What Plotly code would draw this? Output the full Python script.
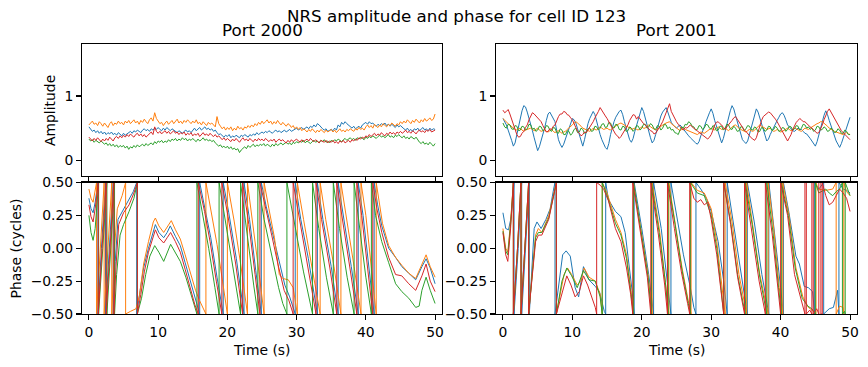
import numpy as np
import plotly.graph_objects as go

# ---------------- data ----------------
SERIES = ["blue", "orange", "green", "red"]
COLORS = {"blue": "#1f77b4", "orange": "#ff7f0e", "green": "#2ca02c", "red": "#d62728"}

# Amplitude, sampled every 0.25 s from 0 to 50 s (201 samples)
amp_2000_blue = [0.52, 0.48, 0.45, 0.47, 0.43, 0.46, 0.42, 0.45, 0.41, 0.44, 0.40, 0.43, 0.41, 0.44, 0.40, 0.42, 0.39, 0.43, 0.40, 0.38,
                 0.42, 0.39, 0.41, 0.43, 0.45, 0.42, 0.46, 0.44, 0.47, 0.45, 0.43, 0.47, 0.49, 0.46, 0.48, 0.45, 0.49, 0.47, 0.50, 0.48,
                 0.51, 0.48, 0.46, 0.50, 0.47, 0.51, 0.49, 0.46, 0.49, 0.47, 0.45, 0.43, 0.46, 0.44, 0.42, 0.45, 0.47, 0.44, 0.46, 0.43,
                 0.47, 0.50, 0.46, 0.48, 0.51, 0.47, 0.49, 0.52, 0.48, 0.50, 0.47, 0.49, 0.45, 0.47, 0.43, 0.40, 0.41, 0.38, 0.36, 0.39,
                 0.37, 0.40, 0.35, 0.38, 0.36, 0.39, 0.37, 0.35, 0.39, 0.37, 0.40, 0.38, 0.36, 0.40, 0.38, 0.41, 0.39, 0.43, 0.40, 0.42,
                 0.44, 0.42, 0.45, 0.43, 0.46, 0.44, 0.42, 0.45, 0.47, 0.44, 0.46, 0.43, 0.45, 0.47, 0.44, 0.46, 0.48, 0.45, 0.47, 0.49,
                 0.50, 0.47, 0.49, 0.51, 0.48, 0.50, 0.52, 0.49, 0.53, 0.51, 0.55, 0.52, 0.57, 0.55, 0.51, 0.49, 0.47, 0.49, 0.45, 0.47,
                 0.48, 0.46, 0.50, 0.47, 0.55, 0.52, 0.59, 0.56, 0.60, 0.57, 0.55, 0.52, 0.50, 0.53, 0.49, 0.51, 0.53, 0.50, 0.55, 0.57,
                 0.59, 0.56, 0.60, 0.57, 0.58, 0.55, 0.53, 0.56, 0.54, 0.57, 0.55, 0.58, 0.54, 0.56, 0.53, 0.56, 0.54, 0.51, 0.55, 0.52,
                 0.54, 0.51, 0.49, 0.47, 0.50, 0.46, 0.48, 0.45, 0.49, 0.47, 0.50, 0.46, 0.48, 0.51, 0.47, 0.49, 0.46, 0.50, 0.47, 0.49,
                 0.48]
amp_2000_orange = [0.55, 0.59, 0.61, 0.56, 0.58, 0.54, 0.60, 0.57, 0.53, 0.58, 0.55, 0.51, 0.57, 0.60, 0.54, 0.58, 0.56, 0.61, 0.57, 0.59,
                   0.55, 0.61, 0.58, 0.62, 0.57, 0.60, 0.63, 0.58, 0.61, 0.56, 0.62, 0.59, 0.64, 0.60, 0.57, 0.63, 0.66, 0.61, 0.74, 0.65,
                   0.60, 0.57, 0.59, 0.54, 0.58, 0.61, 0.56, 0.59, 0.62, 0.57, 0.60, 0.64, 0.58, 0.61, 0.57, 0.62, 0.59, 0.63, 0.60, 0.57,
                   0.61, 0.58, 0.63, 0.57, 0.59, 0.55, 0.60, 0.57, 0.54, 0.59, 0.56, 0.58, 0.55, 0.52, 0.68, 0.57, 0.53, 0.49, 0.52, 0.47,
                   0.51, 0.48, 0.52, 0.46, 0.50, 0.47, 0.53, 0.49, 0.51, 0.47, 0.52, 0.50, 0.54, 0.51, 0.55, 0.52, 0.57, 0.54, 0.59, 0.56,
                   0.61, 0.57, 0.60, 0.63, 0.58, 0.61, 0.56, 0.60, 0.57, 0.62, 0.58, 0.55, 0.59, 0.56, 0.53, 0.57, 0.55, 0.51, 0.54, 0.49,
                   0.52, 0.48, 0.51, 0.46, 0.49, 0.47, 0.44, 0.48, 0.45, 0.49, 0.46, 0.43, 0.47, 0.44, 0.48, 0.45, 0.43, 0.47, 0.44, 0.46,
                   0.48, 0.44, 0.47, 0.43, 0.46, 0.49, 0.45, 0.47, 0.44, 0.48, 0.46, 0.49, 0.47, 0.45, 0.49, 0.47, 0.51, 0.48, 0.50, 0.47,
                   0.52, 0.55, 0.51, 0.54, 0.50, 0.56, 0.53, 0.51, 0.55, 0.52, 0.57, 0.54, 0.52, 0.56, 0.54, 0.58, 0.55, 0.53, 0.57, 0.55,
                   0.60, 0.57, 0.61, 0.58, 0.63, 0.60, 0.57, 0.62, 0.59, 0.64, 0.61, 0.58, 0.63, 0.60, 0.65, 0.61, 0.63, 0.66, 0.62, 0.64,
                   0.72]
amp_2000_green = [0.33, 0.30, 0.32, 0.28, 0.31, 0.29, 0.27, 0.30, 0.28, 0.25, 0.27, 0.23, 0.26, 0.22, 0.25, 0.21, 0.24, 0.20, 0.23, 0.21,
                  0.23, 0.19, 0.22, 0.17, 0.21, 0.19, 0.23, 0.20, 0.24, 0.21, 0.23, 0.25, 0.22, 0.26, 0.23, 0.25, 0.27, 0.24, 0.29, 0.26,
                  0.30, 0.28, 0.31, 0.27, 0.30, 0.28, 0.32, 0.29, 0.33, 0.31, 0.34, 0.30, 0.33, 0.31, 0.35, 0.32, 0.34, 0.30, 0.33, 0.31,
                  0.34, 0.31, 0.29, 0.33, 0.30, 0.32, 0.35, 0.31, 0.33, 0.30, 0.32, 0.29, 0.31, 0.27, 0.25, 0.22, 0.24, 0.20, 0.22, 0.19,
                  0.22, 0.18, 0.21, 0.17, 0.19, 0.16, 0.18, 0.12, 0.16, 0.19, 0.21, 0.18, 0.23, 0.20, 0.22, 0.25, 0.21, 0.24, 0.22, 0.25,
                  0.23, 0.26, 0.22, 0.25, 0.23, 0.21, 0.25, 0.22, 0.26, 0.23, 0.25, 0.27, 0.24, 0.26, 0.28, 0.25, 0.27, 0.24, 0.28, 0.26,
                  0.29, 0.27, 0.30, 0.28, 0.31, 0.27, 0.30, 0.28, 0.26, 0.29, 0.31, 0.28, 0.30, 0.27, 0.31, 0.29, 0.32, 0.28, 0.30, 0.27,
                  0.31, 0.29, 0.32, 0.30, 0.33, 0.31, 0.29, 0.32, 0.34, 0.31, 0.33, 0.35, 0.32, 0.34, 0.31, 0.35, 0.33, 0.36, 0.34, 0.32,
                  0.36, 0.34, 0.37, 0.35, 0.38, 0.36, 0.34, 0.37, 0.39, 0.36, 0.38, 0.35, 0.37, 0.40, 0.36, 0.38, 0.35, 0.39, 0.37, 0.40,
                  0.37, 0.35, 0.38, 0.34, 0.36, 0.33, 0.37, 0.35, 0.33, 0.36, 0.31, 0.28, 0.26, 0.29, 0.25, 0.27, 0.24, 0.28, 0.25, 0.22,
                  0.26]
amp_2000_red = [0.36, 0.33, 0.30, 0.34, 0.31, 0.35, 0.32, 0.29, 0.33, 0.30, 0.34, 0.31, 0.36, 0.33, 0.30, 0.35, 0.37, 0.34, 0.38, 0.35,
                0.39, 0.36, 0.40, 0.37, 0.41, 0.38, 0.36, 0.40, 0.42, 0.38, 0.41, 0.37, 0.40, 0.36, 0.39, 0.42, 0.44, 0.40, 0.52, 0.45,
                0.42, 0.45, 0.41, 0.44, 0.46, 0.42, 0.45, 0.41, 0.43, 0.46, 0.42, 0.44, 0.40, 0.43, 0.41, 0.44, 0.39, 0.42, 0.40, 0.43,
                0.38, 0.41, 0.39, 0.42, 0.37, 0.40, 0.43, 0.39, 0.41, 0.38, 0.42, 0.39, 0.37, 0.40, 0.36, 0.38, 0.34, 0.32, 0.35, 0.31,
                0.34, 0.31, 0.29, 0.33, 0.30, 0.34, 0.31, 0.28, 0.32, 0.35, 0.31, 0.33, 0.30, 0.34, 0.31, 0.29, 0.33, 0.30, 0.34, 0.31,
                0.33, 0.30, 0.34, 0.31, 0.29, 0.32, 0.30, 0.33, 0.28, 0.31, 0.33, 0.30, 0.32, 0.29, 0.27, 0.31, 0.28, 0.32, 0.29, 0.31,
                0.33, 0.30, 0.28, 0.32, 0.29, 0.31, 0.33, 0.30, 0.34, 0.31, 0.29, 0.32, 0.30, 0.27, 0.31, 0.29, 0.28, 0.31, 0.27, 0.30,
                0.28, 0.31, 0.27, 0.29, 0.26, 0.30, 0.28, 0.31, 0.27, 0.29, 0.31, 0.28, 0.32, 0.30, 0.33, 0.31, 0.35, 0.33, 0.36, 0.34,
                0.38, 0.36, 0.40, 0.37, 0.39, 0.42, 0.38, 0.41, 0.39, 0.43, 0.40, 0.38, 0.42, 0.40, 0.44, 0.41, 0.43, 0.40, 0.44, 0.42,
                0.45, 0.42, 0.44, 0.47, 0.43, 0.45, 0.42, 0.46, 0.44, 0.41, 0.45, 0.47, 0.44, 0.46, 0.43, 0.47, 0.45, 0.48, 0.44, 0.46,
                0.47]

amp_2001_blue = [0.65, 0.61, 0.55, 0.47, 0.40, 0.31, 0.22, 0.27, 0.40, 0.53, 0.65, 0.77, 0.85, 0.83, 0.75, 0.66, 0.55, 0.46, 0.35, 0.24,
                 0.15, 0.21, 0.30, 0.41, 0.50, 0.62, 0.72, 0.75, 0.70, 0.66, 0.60, 0.46, 0.32, 0.25, 0.20, 0.25, 0.33, 0.43, 0.50, 0.59,
                 0.65, 0.63, 0.58, 0.49, 0.40, 0.29, 0.22, 0.32, 0.45, 0.57, 0.65, 0.71, 0.76, 0.71, 0.60, 0.51, 0.40, 0.32, 0.25, 0.20,
                 0.17, 0.26, 0.40, 0.51, 0.60, 0.67, 0.72, 0.76, 0.78, 0.71, 0.60, 0.50, 0.40, 0.32, 0.28, 0.34, 0.45, 0.55, 0.65, 0.74,
                 0.82, 0.76, 0.65, 0.56, 0.45, 0.35, 0.27, 0.31, 0.40, 0.50, 0.60, 0.69, 0.75, 0.79, 0.82, 0.75, 0.65, 0.59, 0.55, 0.52,
                 0.50, 0.53, 0.55, 0.52, 0.48, 0.44, 0.40, 0.38, 0.35, 0.32, 0.30, 0.27, 0.25, 0.29, 0.38, 0.44, 0.52, 0.60, 0.68, 0.74,
                 0.80, 0.73, 0.62, 0.54, 0.45, 0.35, 0.27, 0.34, 0.45, 0.56, 0.68, 0.77, 0.85, 0.80, 0.70, 0.61, 0.50, 0.41, 0.32, 0.29,
                 0.26, 0.30, 0.40, 0.51, 0.62, 0.71, 0.80, 0.75, 0.65, 0.58, 0.48, 0.39, 0.30, 0.33, 0.40, 0.46, 0.52, 0.57, 0.62, 0.67,
                 0.72, 0.74, 0.70, 0.63, 0.55, 0.52, 0.48, 0.46, 0.45, 0.48, 0.50, 0.48, 0.48, 0.45, 0.42, 0.41, 0.38, 0.34, 0.30, 0.26,
                 0.22, 0.29, 0.40, 0.51, 0.62, 0.70, 0.77, 0.71, 0.62, 0.54, 0.45, 0.38, 0.30, 0.25, 0.20, 0.26, 0.35, 0.43, 0.52, 0.59,
                 0.67]
amp_2001_orange = [0.65, 0.62, 0.60, 0.57, 0.55, 0.52, 0.50, 0.48, 0.47, 0.49, 0.50, 0.47, 0.45, 0.47, 0.48, 0.50, 0.50, 0.48, 0.46, 0.48,
                   0.50, 0.47, 0.45, 0.46, 0.47, 0.45, 0.44, 0.46, 0.48, 0.45, 0.43, 0.45, 0.46, 0.44, 0.42, 0.44, 0.45, 0.48, 0.50, 0.53,
                   0.55, 0.58, 0.60, 0.58, 0.56, 0.53, 0.50, 0.49, 0.48, 0.46, 0.45, 0.47, 0.50, 0.48, 0.47, 0.50, 0.52, 0.50, 0.48, 0.49,
                   0.50, 0.48, 0.47, 0.50, 0.52, 0.54, 0.55, 0.57, 0.58, 0.56, 0.54, 0.53, 0.52, 0.50, 0.48, 0.49, 0.50, 0.48, 0.47, 0.50,
                   0.52, 0.50, 0.50, 0.53, 0.55, 0.52, 0.50, 0.48, 0.47, 0.49, 0.50, 0.53, 0.55, 0.57, 0.58, 0.59, 0.60, 0.57, 0.55, 0.52,
                   0.50, 0.48, 0.46, 0.48, 0.50, 0.48, 0.47, 0.46, 0.45, 0.43, 0.42, 0.41, 0.40, 0.42, 0.44, 0.43, 0.42, 0.44, 0.46, 0.48,
                   0.50, 0.48, 0.47, 0.50, 0.52, 0.50, 0.48, 0.49, 0.50, 0.48, 0.46, 0.49, 0.52, 0.54, 0.55, 0.52, 0.50, 0.48, 0.47, 0.45,
                   0.44, 0.46, 0.48, 0.46, 0.45, 0.47, 0.50, 0.53, 0.55, 0.53, 0.52, 0.50, 0.48, 0.49, 0.50, 0.47, 0.45, 0.46, 0.48, 0.46,
                   0.44, 0.45, 0.47, 0.49, 0.50, 0.48, 0.46, 0.48, 0.50, 0.49, 0.47, 0.46, 0.45, 0.48, 0.50, 0.49, 0.48, 0.50, 0.52, 0.54,
                   0.55, 0.57, 0.58, 0.60, 0.60, 0.58, 0.56, 0.53, 0.50, 0.48, 0.47, 0.45, 0.44, 0.43, 0.42, 0.41, 0.40, 0.42, 0.43, 0.41,
                   0.40]
amp_2001_green = [0.58, 0.52, 0.50, 0.56, 0.55, 0.49, 0.48, 0.54, 0.53, 0.46, 0.47, 0.53, 0.52, 0.47, 0.49, 0.56, 0.55, 0.48, 0.50, 0.45,
                  0.47, 0.53, 0.52, 0.46, 0.48, 0.54, 0.53, 0.47, 0.45, 0.51, 0.50, 0.43, 0.42, 0.49, 0.47, 0.40, 0.40, 0.46, 0.45, 0.39,
                  0.42, 0.48, 0.50, 0.43, 0.44, 0.50, 0.48, 0.42, 0.43, 0.49, 0.50, 0.45, 0.46, 0.53, 0.52, 0.47, 0.50, 0.56, 0.57, 0.51,
                  0.52, 0.59, 0.58, 0.51, 0.50, 0.56, 0.55, 0.48, 0.47, 0.53, 0.52, 0.45, 0.46, 0.52, 0.50, 0.45, 0.48, 0.54, 0.53, 0.47,
                  0.50, 0.56, 0.56, 0.50, 0.52, 0.57, 0.55, 0.49, 0.48, 0.54, 0.53, 0.47, 0.50, 0.56, 0.55, 0.49, 0.52, 0.47, 0.48, 0.43,
                  0.42, 0.40, 0.47, 0.52, 0.50, 0.56, 0.55, 0.60, 0.58, 0.53, 0.52, 0.47, 0.48, 0.54, 0.53, 0.48, 0.50, 0.56, 0.55, 0.50,
                  0.48, 0.54, 0.52, 0.46, 0.47, 0.53, 0.53, 0.47, 0.50, 0.56, 0.55, 0.49, 0.48, 0.53, 0.50, 0.45, 0.46, 0.52, 0.52, 0.46,
                  0.49, 0.54, 0.53, 0.48, 0.47, 0.52, 0.50, 0.44, 0.45, 0.51, 0.50, 0.45, 0.47, 0.53, 0.52, 0.46, 0.48, 0.53, 0.50, 0.45,
                  0.46, 0.51, 0.50, 0.45, 0.48, 0.53, 0.52, 0.47, 0.49, 0.54, 0.53, 0.47, 0.50, 0.56, 0.55, 0.50, 0.52, 0.48, 0.50, 0.45,
                  0.47, 0.53, 0.52, 0.47, 0.48, 0.52, 0.50, 0.45, 0.46, 0.50, 0.48, 0.43, 0.44, 0.49, 0.47, 0.42, 0.42, 0.47, 0.45, 0.40,
                  0.40]
amp_2001_red = [0.78, 0.74, 0.76, 0.79, 0.72, 0.64, 0.55, 0.47, 0.40, 0.36, 0.37, 0.42, 0.45, 0.51, 0.55, 0.63, 0.68, 0.74, 0.72, 0.69,
                0.66, 0.63, 0.60, 0.54, 0.50, 0.44, 0.45, 0.49, 0.48, 0.53, 0.55, 0.63, 0.68, 0.72, 0.72, 0.76, 0.75, 0.71, 0.70, 0.66,
                0.63, 0.57, 0.50, 0.45, 0.42, 0.38, 0.40, 0.44, 0.43, 0.47, 0.50, 0.56, 0.60, 0.66, 0.70, 0.76, 0.82, 0.77, 0.72, 0.69,
                0.65, 0.59, 0.55, 0.50, 0.45, 0.40, 0.38, 0.34, 0.37, 0.41, 0.45, 0.50, 0.55, 0.62, 0.66, 0.71, 0.70, 0.64, 0.68, 0.64,
                0.62, 0.57, 0.55, 0.52, 0.50, 0.46, 0.45, 0.41, 0.42, 0.46, 0.50, 0.55, 0.60, 0.67, 0.72, 0.78, 0.88, 0.76, 0.70, 0.65,
                0.60, 0.56, 0.52, 0.49, 0.47, 0.51, 0.50, 0.53, 0.55, 0.52, 0.50, 0.47, 0.45, 0.43, 0.42, 0.39, 0.38, 0.35, 0.33, 0.36,
                0.40, 0.47, 0.55, 0.59, 0.60, 0.57, 0.55, 0.51, 0.48, 0.52, 0.55, 0.59, 0.62, 0.66, 0.68, 0.64, 0.60, 0.55, 0.50, 0.47,
                0.45, 0.41, 0.38, 0.35, 0.33, 0.31, 0.35, 0.45, 0.55, 0.62, 0.68, 0.70, 0.72, 0.75, 0.74, 0.71, 0.68, 0.64, 0.60, 0.55,
                0.50, 0.45, 0.40, 0.34, 0.30, 0.35, 0.40, 0.48, 0.55, 0.59, 0.62, 0.65, 0.63, 0.60, 0.60, 0.57, 0.55, 0.52, 0.50, 0.47,
                0.45, 0.42, 0.43, 0.48, 0.55, 0.63, 0.70, 0.76, 0.80, 0.75, 0.72, 0.66, 0.60, 0.55, 0.50, 0.46, 0.43, 0.40, 0.38, 0.35,
                0.32]

# Phase (cycles), wrapped to [-0.5, 0.5]: (time s, phase) samples
phase_2000_blue = [(0, 0.38), (0.3, 0.30), (0.6, 0.27), (0.9, 0.35), (1.3, 0.5), (1.3, -0.5), (1.8, 0.0), (2.4, 0.5), (2.4, -0.5), (2.9, 0.0), (3.5, 0.5), (3.5, -0.5), (3.8, -0.1), (4.2, 0.22), (5.0, 0.30), (5.8, 0.37), (6.4, 0.43), (6.9, 0.5), (6.9, -0.5), (7.4, -0.32), (7.9, -0.15), (8.6, 0.0), (9.3, 0.14), (9.6, 0.18), (10.1, 0.12), (10.8, 0.08), (11.3, 0.12), (11.75, 0.17), (12.5, 0.09), (13.2, 0.02), (13.9, -0.11), (14.6, -0.24), (15.4, -0.39), (16.0, -0.5), (16.0, 0.5), (16.8, 0.30), (17.6, 0.08), (18.5, -0.22), (19.4, -0.5), (19.4, 0.5), (20.2, 0.27), (21.3, -0.08), (22.4, -0.5), (22.4, 0.5), (23.2, 0.22), (24.1, -0.17), (24.9, -0.5), (24.9, 0.5), (25.6, 0.32), (26.5, 0.12), (27.4, -0.08), (28.3, -0.28), (29.0, -0.37), (29.8, -0.5), (29.8, 0.5), (30.6, 0.22), (31.7, -0.08), (33.0, -0.5), (33.0, 0.5), (33.8, 0.22), (35.0, -0.14), (36.0, -0.5), (36.0, 0.5), (36.8, 0.24), (37.9, -0.14), (38.9, -0.5), (38.9, 0.5), (39.6, 0.25), (40.4, -0.14), (41.2, -0.5), (41.2, 0.5), (41.7, 0.33), (42.3, 0.17), (43.3, 0.0), (44.3, -0.07), (45.2, -0.14), (46.2, -0.19), (47.2, -0.24), (48.1, -0.14), (48.7, -0.08), (49.3, -0.15), (50.0, -0.27)]
phase_2000_orange = [(0, 0.45), (0.3, 0.38), (0.6, 0.35), (0.9, 0.43), (1.1, 0.5), (1.1, -0.5), (1.6, 0.0), (2.2, 0.5), (2.2, -0.5), (2.7, 0.0), (3.3, 0.5), (3.3, -0.5), (3.7, 0.0), (4.1, 0.30), (4.8, 0.40), (5.3, 0.5), (5.3, -0.5), (6.0, -0.48), (6.8, -0.46), (7.3, -0.36), (7.9, -0.12), (8.6, 0.05), (9.3, 0.20), (9.6, 0.23), (10.1, 0.17), (10.8, 0.12), (11.3, 0.16), (11.9, 0.21), (12.5, 0.14), (13.2, 0.07), (13.9, -0.05), (14.6, -0.18), (15.4, -0.32), (16.0, -0.40), (16.5, -0.46), (16.9, -0.5), (16.9, 0.5), (17.6, 0.30), (18.5, 0.03), (19.3, -0.25), (20.0, -0.5), (20.0, 0.5), (21.0, 0.20), (22.0, -0.15), (22.9, -0.5), (22.9, 0.5), (23.8, 0.15), (24.6, -0.20), (25.3, -0.5), (25.3, 0.5), (26.0, 0.30), (26.8, 0.08), (27.5, -0.20), (28.0, -0.23), (28.8, -0.24), (29.5, -0.30), (30.1, -0.5), (30.1, 0.5), (31.0, 0.22), (32.1, -0.10), (33.4, -0.5), (33.4, 0.5), (34.2, 0.22), (35.4, -0.14), (36.4, -0.5), (36.4, 0.5), (37.2, 0.24), (38.3, -0.14), (39.3, -0.5), (39.3, 0.5), (40.0, 0.25), (40.8, -0.14), (41.5, -0.5), (41.5, 0.5), (42.0, 0.33), (42.4, 0.19), (43.3, 0.02), (44.3, -0.07), (45.2, -0.13), (46.2, -0.19), (47.2, -0.23), (48.1, -0.13), (48.7, -0.05), (49.3, -0.14), (50.0, -0.22)]
phase_2000_green = [(0, 0.25), (0.3, 0.12), (0.6, 0.06), (0.9, 0.15), (1.4, 0.5), (1.4, -0.5), (2.0, 0.0), (2.6, 0.5), (2.6, -0.5), (3.1, 0.0), (3.7, 0.5), (3.7, -0.5), (4.0, -0.20), (4.5, 0.10), (5.0, 0.18), (5.8, 0.28), (6.5, 0.38), (7.0, 0.5), (7.0, -0.5), (7.6, -0.38), (8.2, -0.20), (8.8, -0.06), (9.5, 0.02), (10.1, -0.03), (10.8, -0.10), (11.8, 0.03), (12.5, -0.03), (13.2, -0.10), (14.0, -0.22), (14.7, -0.35), (15.3, -0.45), (15.6, -0.5), (15.6, 0.5), (16.5, 0.25), (17.3, 0.0), (18.2, -0.30), (18.8, -0.5), (18.8, 0.5), (19.7, 0.20), (20.9, -0.18), (21.9, -0.5), (21.9, 0.5), (22.8, 0.12), (23.8, -0.28), (24.4, -0.5), (24.4, 0.5), (25.3, 0.22), (26.4, -0.05), (27.4, -0.30), (28.0, -0.42), (28.6, -0.5), (28.6, 0.5), (29.8, 0.15), (31.0, -0.18), (32.3, -0.5), (32.3, 0.5), (33.2, 0.15), (34.3, -0.22), (35.3, -0.5), (35.3, 0.5), (36.2, 0.15), (37.3, -0.22), (38.3, -0.5), (38.3, 0.5), (39.0, 0.20), (40.0, -0.22), (40.8, -0.5), (40.8, 0.5), (41.4, 0.25), (42.3, 0.05), (43.3, -0.11), (44.3, -0.27), (45.2, -0.33), (46.2, -0.38), (47.2, -0.45), (47.7, -0.44), (48.1, -0.32), (48.7, -0.22), (49.3, -0.32), (50.0, -0.42)]
phase_2000_red = [(0, 0.33), (0.3, 0.24), (0.6, 0.20), (0.9, 0.30), (1.35, 0.5), (1.35, -0.5), (1.9, 0.0), (2.5, 0.5), (2.5, -0.5), (3.0, 0.0), (3.6, 0.5), (3.6, -0.5), (3.9, -0.15), (4.3, 0.18), (5.0, 0.27), (5.8, 0.33), (6.5, 0.42), (7.0, 0.5), (7.0, -0.5), (7.5, -0.35), (8.0, -0.18), (8.6, -0.03), (9.3, 0.10), (9.6, 0.14), (10.1, 0.08), (10.8, 0.04), (11.3, 0.08), (11.8, 0.12), (12.5, 0.05), (13.2, -0.03), (13.9, -0.16), (14.6, -0.30), (15.3, -0.43), (15.8, -0.5), (15.8, 0.5), (16.7, 0.28), (17.5, 0.05), (18.4, -0.25), (19.2, -0.5), (19.2, 0.5), (20.1, 0.24), (21.2, -0.12), (22.2, -0.5), (22.2, 0.5), (23.1, 0.18), (24.0, -0.20), (24.7, -0.5), (24.7, 0.5), (25.5, 0.30), (26.4, 0.10), (27.3, -0.12), (28.2, -0.32), (28.9, -0.40), (29.5, -0.5), (29.5, 0.5), (30.4, 0.22), (31.5, -0.10), (32.8, -0.5), (32.8, 0.5), (33.6, 0.22), (34.8, -0.15), (35.8, -0.5), (35.8, 0.5), (36.6, 0.24), (37.7, -0.15), (38.7, -0.5), (38.7, 0.5), (39.4, 0.25), (40.2, -0.15), (41.0, -0.5), (41.0, 0.5), (41.6, 0.30), (42.3, 0.12), (43.3, -0.07), (44.3, -0.20), (45.2, -0.21), (46.2, -0.27), (47.2, -0.32), (48.1, -0.21), (48.7, -0.12), (49.3, -0.25), (50.0, -0.33)]

phase_2001_blue = [(0, 0.27), (0.4, 0.15), (0.8, 0.14), (1.2, 0.24), (1.6, 0.5), (1.6, -0.5), (2.2, 0.0), (2.7, 0.5), (2.7, -0.5), (3.2, 0.0), (3.8, 0.5), (3.8, -0.5), (4.2, -0.10), (4.5, 0.15), (4.9, 0.20), (5.5, 0.15), (6.2, 0.22), (6.8, 0.30), (7.3, 0.45), (7.5, 0.5), (7.5, -0.5), (8.0, -0.30), (8.6, -0.05), (9.1, -0.02), (9.7, -0.06), (10.4, -0.30), (10.9, -0.37), (11.6, -0.14), (12.4, -0.24), (13.3, -0.29), (13.9, -0.33), (14.6, -0.48), (14.8, -0.5), (14.8, 0.5), (15.2, 0.37), (16.2, 0.28), (17.0, 0.24), (17.6, 0.12), (18.1, -0.10), (18.6, -0.32), (18.9, -0.5), (18.9, 0.5), (20.0, 0.15), (21.0, -0.20), (21.7, -0.5), (21.7, 0.5), (22.8, 0.15), (23.6, -0.20), (24.2, -0.5), (24.2, 0.5), (25.0, 0.25), (26.0, -0.05), (27.0, -0.30), (27.5, -0.45), (27.8, -0.5), (27.8, 0.5), (28.5, 0.45), (29.3, 0.38), (30.0, 0.28), (31.0, 0.05), (31.8, -0.25), (32.3, -0.5), (32.3, 0.5), (33.2, 0.20), (34.3, -0.20), (35.2, -0.5), (35.2, 0.5), (36.2, 0.20), (37.3, -0.20), (38.3, -0.5), (38.3, 0.5), (39.2, 0.10), (40.0, -0.30), (40.4, -0.5), (40.4, 0.5), (41.2, 0.27), (42.2, -0.06), (42.7, -0.12), (43.4, -0.29), (44.0, -0.30), (44.6, -0.33), (44.9, -0.5), (44.9, 0.5), (45.5, 0.45), (46.2, 0.5), (46.2, -0.5), (47.0, -0.46), (47.6, -0.45), (48.2, -0.32), (48.4, -0.5), (48.4, 0.5), (49.0, 0.45), (49.5, 0.44), (50.0, 0.42)]
phase_2001_orange = [(0, 0.15), (0.4, 0.0), (0.7, -0.03), (1.1, 0.20), (1.5, 0.5), (1.5, -0.5), (2.1, 0.0), (2.6, 0.5), (2.6, -0.5), (3.2, 0.0), (3.7, 0.5), (3.7, -0.5), (4.7, 0.10), (5.1, 0.15), (5.6, 0.12), (6.6, 0.25), (7.3, 0.42), (7.7, 0.5), (7.7, -0.5), (8.2, -0.35), (8.8, -0.20), (9.3, -0.15), (9.9, -0.20), (10.7, -0.28), (11.2, -0.25), (11.7, -0.15), (12.4, -0.22), (13.3, -0.25), (14.0, -0.35), (14.3, -0.5), (14.3, 0.5), (15.0, 0.42), (16.2, 0.22), (17.0, 0.12), (17.8, -0.05), (18.4, -0.30), (18.8, -0.5), (18.8, 0.5), (19.9, 0.15), (20.9, -0.20), (21.5, -0.5), (21.5, 0.5), (22.6, 0.12), (23.4, -0.25), (23.9, -0.5), (23.9, 0.5), (24.8, 0.20), (25.8, -0.15), (26.7, -0.40), (27.1, -0.5), (27.1, 0.5), (28.0, 0.44), (29.0, 0.42), (30.0, 0.30), (30.8, 0.05), (31.4, -0.25), (32.0, -0.5), (32.0, 0.5), (33.0, 0.20), (34.0, -0.20), (35.1, -0.5), (35.1, 0.5), (36.0, 0.18), (37.0, -0.20), (38.2, -0.5), (38.2, 0.5), (39.0, 0.15), (39.8, -0.30), (40.3, -0.5), (40.3, 0.5), (41.2, 0.25), (42.2, -0.15), (43.2, -0.37), (44.0, -0.45), (44.5, -0.47), (45.1, -0.5), (45.1, 0.5), (45.4, 0.45), (46.5, 0.44), (47.5, 0.45), (48.0, 0.5), (48.0, -0.5), (48.5, -0.44), (49.0, -0.45), (49.1, -0.5), (49.1, 0.5), (49.5, 0.43), (50.0, 0.40)]
phase_2001_green = [(0, 0.13), (0.4, -0.02), (0.7, -0.05), (1.1, 0.18), (1.5, 0.5), (1.5, -0.5), (2.1, 0.0), (2.6, 0.5), (2.6, -0.5), (3.2, 0.0), (3.7, 0.5), (3.7, -0.5), (4.7, 0.08), (5.1, 0.12), (5.6, 0.12), (6.6, 0.23), (7.3, 0.40), (7.7, 0.5), (7.7, -0.5), (8.2, -0.35), (8.5, -0.25), (9.2, -0.15), (9.9, -0.21), (10.7, -0.30), (11.6, -0.17), (12.4, -0.24), (13.3, -0.25), (14.0, -0.37), (14.3, -0.5), (14.3, 0.5), (15.0, 0.40), (16.2, 0.19), (17.0, 0.10), (17.8, -0.08), (18.4, -0.32), (18.8, -0.5), (18.8, 0.5), (19.9, 0.13), (20.9, -0.22), (21.4, -0.5), (21.4, 0.5), (22.5, 0.12), (23.4, -0.26), (23.8, -0.5), (23.8, 0.5), (24.8, 0.18), (25.8, -0.17), (26.7, -0.42), (27.0, -0.5), (27.0, 0.5), (28.0, 0.42), (29.0, 0.40), (30.0, 0.25), (30.8, 0.0), (31.4, -0.30), (31.8, -0.5), (31.8, 0.5), (32.8, 0.20), (33.8, -0.20), (34.9, -0.5), (34.9, 0.5), (35.9, 0.18), (37.0, -0.22), (38.0, -0.5), (38.0, 0.5), (38.9, 0.12), (39.7, -0.30), (40.1, -0.5), (40.1, 0.5), (41.1, 0.25), (42.1, -0.15), (43.1, -0.38), (43.9, -0.44), (44.5, -0.46), (45.0, -0.5), (45.0, 0.5), (45.5, 0.42), (46.5, 0.45), (47.0, 0.42), (47.5, 0.40), (48.0, 0.43), (48.5, 0.45), (48.9, 0.5), (48.9, -0.5), (49.2, -0.48), (49.3, -0.5), (49.3, 0.5), (50.0, 0.40)]
phase_2001_red = [(0, 0.12), (0.4, -0.05), (0.7, -0.10), (1.1, 0.15), (1.5, 0.5), (1.5, -0.5), (2.1, 0.0), (2.6, 0.5), (2.6, -0.5), (3.2, 0.0), (3.7, 0.5), (3.7, -0.5), (4.7, 0.05), (5.1, 0.10), (5.6, 0.10), (6.6, 0.22), (7.3, 0.40), (7.7, 0.5), (7.7, -0.5), (8.2, -0.40), (8.7, -0.30), (9.2, -0.21), (9.8, -0.28), (10.4, -0.37), (11.0, -0.33), (11.6, -0.21), (12.2, -0.28), (12.8, -0.37), (13.3, -0.45), (13.5, -0.5), (13.5, 0.5), (14.0, 0.48), (14.5, 0.45), (15.2, 0.36), (16.2, 0.15), (17.0, 0.05), (17.8, -0.15), (18.4, -0.35), (18.7, -0.5), (18.7, 0.5), (19.8, 0.12), (20.8, -0.22), (21.3, -0.5), (21.3, 0.5), (22.4, 0.10), (23.3, -0.28), (23.7, -0.5), (23.7, 0.5), (24.7, 0.15), (25.7, -0.18), (26.6, -0.42), (26.9, -0.5), (26.9, 0.5), (27.5, 0.38), (28.0, 0.35), (28.5, 0.37), (29.0, 0.33), (29.5, 0.35), (30.0, 0.22), (30.8, -0.05), (31.4, -0.32), (31.8, -0.5), (31.8, 0.5), (32.8, 0.18), (33.8, -0.22), (34.8, -0.5), (34.8, 0.5), (35.8, 0.15), (36.9, -0.25), (37.8, -0.5), (37.8, 0.5), (38.8, 0.10), (39.6, -0.32), (40.0, -0.5), (40.0, 0.5), (41.0, 0.25), (42.0, -0.20), (43.0, -0.40), (43.5, -0.5), (43.5, 0.5), (43.7, 0.5), (43.7, -0.5), (44.2, -0.47), (44.5, -0.5), (44.5, 0.5), (44.7, 0.5), (44.7, -0.5), (45.2, -0.46), (45.5, -0.5), (45.5, 0.5), (45.8, 0.5), (45.8, -0.5), (46.0, -0.5), (46.0, 0.5), (46.5, 0.40), (47.0, 0.33), (47.5, 0.35), (48.0, 0.40), (48.5, 0.45), (49.0, 0.42), (49.5, 0.38), (50.0, 0.28)]

amplitude = {
    2000: {"blue": amp_2000_blue, "orange": amp_2000_orange, "green": amp_2000_green, "red": amp_2000_red},
    2001: {"blue": amp_2001_blue, "orange": amp_2001_orange, "green": amp_2001_green, "red": amp_2001_red},
}
phase = {
    2000: {"blue": phase_2000_blue, "orange": phase_2000_orange, "green": phase_2000_green, "red": phase_2000_red},
    2001: {"blue": phase_2001_blue, "orange": phase_2001_orange, "green": phase_2001_green, "red": phase_2001_red},
}

# ---------------- figure ----------------
W, H = 868, 367
FONT = "DejaVu Sans, Arial, sans-serif"
TICK_PX = 13.9
TITLE_PX = 16.7
LW = 1.0

fig = go.Figure()
axis_ids = {(2000, "amp"): ("x", "y"), (2001, "amp"): ("x2", "y2"),
            (2000, "phase"): ("x3", "y3"), (2001, "phase"): ("x4", "y4")}

for port in (2000, 2001):
    xa, ya = axis_ids[(port, "amp")]
    for s in SERIES:
        vals = amplitude[port][s]
        t = np.linspace(0, 50, len(vals))
        fig.add_trace(go.Scatter(x=t, y=vals, mode="lines", xaxis=xa, yaxis=ya,
                                 line=dict(color=COLORS[s], width=LW), hoverinfo="skip"))
    xa, ya = axis_ids[(port, "phase")]
    for s in SERIES:
        pts = phase[port][s]
        fig.add_trace(go.Scatter(x=[p[0] for p in pts], y=[p[1] for p in pts], mode="lines",
                                 xaxis=xa, yaxis=ya,
                                 line=dict(color=COLORS[s], width=LW), hoverinfo="skip"))

def px_x(v):
    return v / W

def px_y(v):
    return 1 - v / H

LEFT = [px_x(82), px_x(442)]
RIGHT = [px_x(496), px_x(857)]
TOP = [px_y(176), px_y(44)]
BOT = [px_y(314), px_y(182.5)]

common = dict(showline=True, linecolor="black", linewidth=1.1, mirror=True,
              ticks="outside", ticklen=4.9, tickwidth=1.1, tickcolor="black",
              showgrid=False, zeroline=False, automargin=False,
              tickfont=dict(family=FONT, size=TICK_PX, color="black"))

xticks = [0, 10, 20, 30, 40, 50]
phase_ticks = [-0.5, -0.25, 0.0, 0.25, 0.5]
phase_text = ["\u22120.50", "\u22120.25", "0.00", "0.25", "0.50"]

fig.update_layout(
    template="none",
    width=W, height=H, margin=dict(l=0, r=0, t=0, b=0, pad=0, autoexpand=False),
    paper_bgcolor="white", plot_bgcolor="white", showlegend=False,
    font=dict(family=FONT, color="black"),
    xaxis=dict(domain=LEFT, anchor="y", range=[-1, 51], tickvals=xticks, showticklabels=False, **common),
    xaxis2=dict(domain=RIGHT, anchor="y2", range=[-1, 51], tickvals=xticks, showticklabels=False, **common),
    xaxis3=dict(domain=LEFT, anchor="y3", range=[-1, 51], tickvals=xticks, **common),
    xaxis4=dict(domain=RIGHT, anchor="y4", range=[-1, 51], tickvals=xticks, **common),
    yaxis=dict(domain=TOP, anchor="x", range=[-0.245, 1.81], tickvals=[0, 1], **common),
    yaxis2=dict(domain=TOP, anchor="x2", range=[-0.245, 1.81], tickvals=[0, 1], **common),
    yaxis3=dict(domain=BOT, anchor="x3", range=[-0.5, 0.5], tickvals=phase_ticks, ticktext=phase_text, **common),
    yaxis4=dict(domain=BOT, anchor="x4", range=[-0.5, 0.5], tickvals=phase_ticks, ticktext=phase_text, **common),
)

def label(text, x, y, size, angle=0):
    fig.add_annotation(text=text, x=px_x(x), y=px_y(y), xref="paper", yref="paper",
                       showarrow=False, xanchor="center", yanchor="middle", textangle=angle,
                       font=dict(family=FONT, size=size, color="black"))

label("NRS amplitude and phase for cell ID 123", 456.5, 15.5, TITLE_PX)
label("Port 2000", 262, 30.5, TITLE_PX)
label("Port 2001", 676.5, 30.5, TITLE_PX)
label("Amplitude", 50, 111, TICK_PX, -90)
label("Phase (cycles)", 15.5, 249, TICK_PX, -90)
label("Time (s)", 262, 350, TICK_PX)
label("Time (s)", 676.5, 350, TICK_PX)

# remove the browser's default page margin so the figure sits at the window origin
fig.write_html("out.html",
               config={"displayModeBar": False, "staticPlot": True},
               post_script="document.body.style.margin='0';document.body.style.overflow='hidden';")
